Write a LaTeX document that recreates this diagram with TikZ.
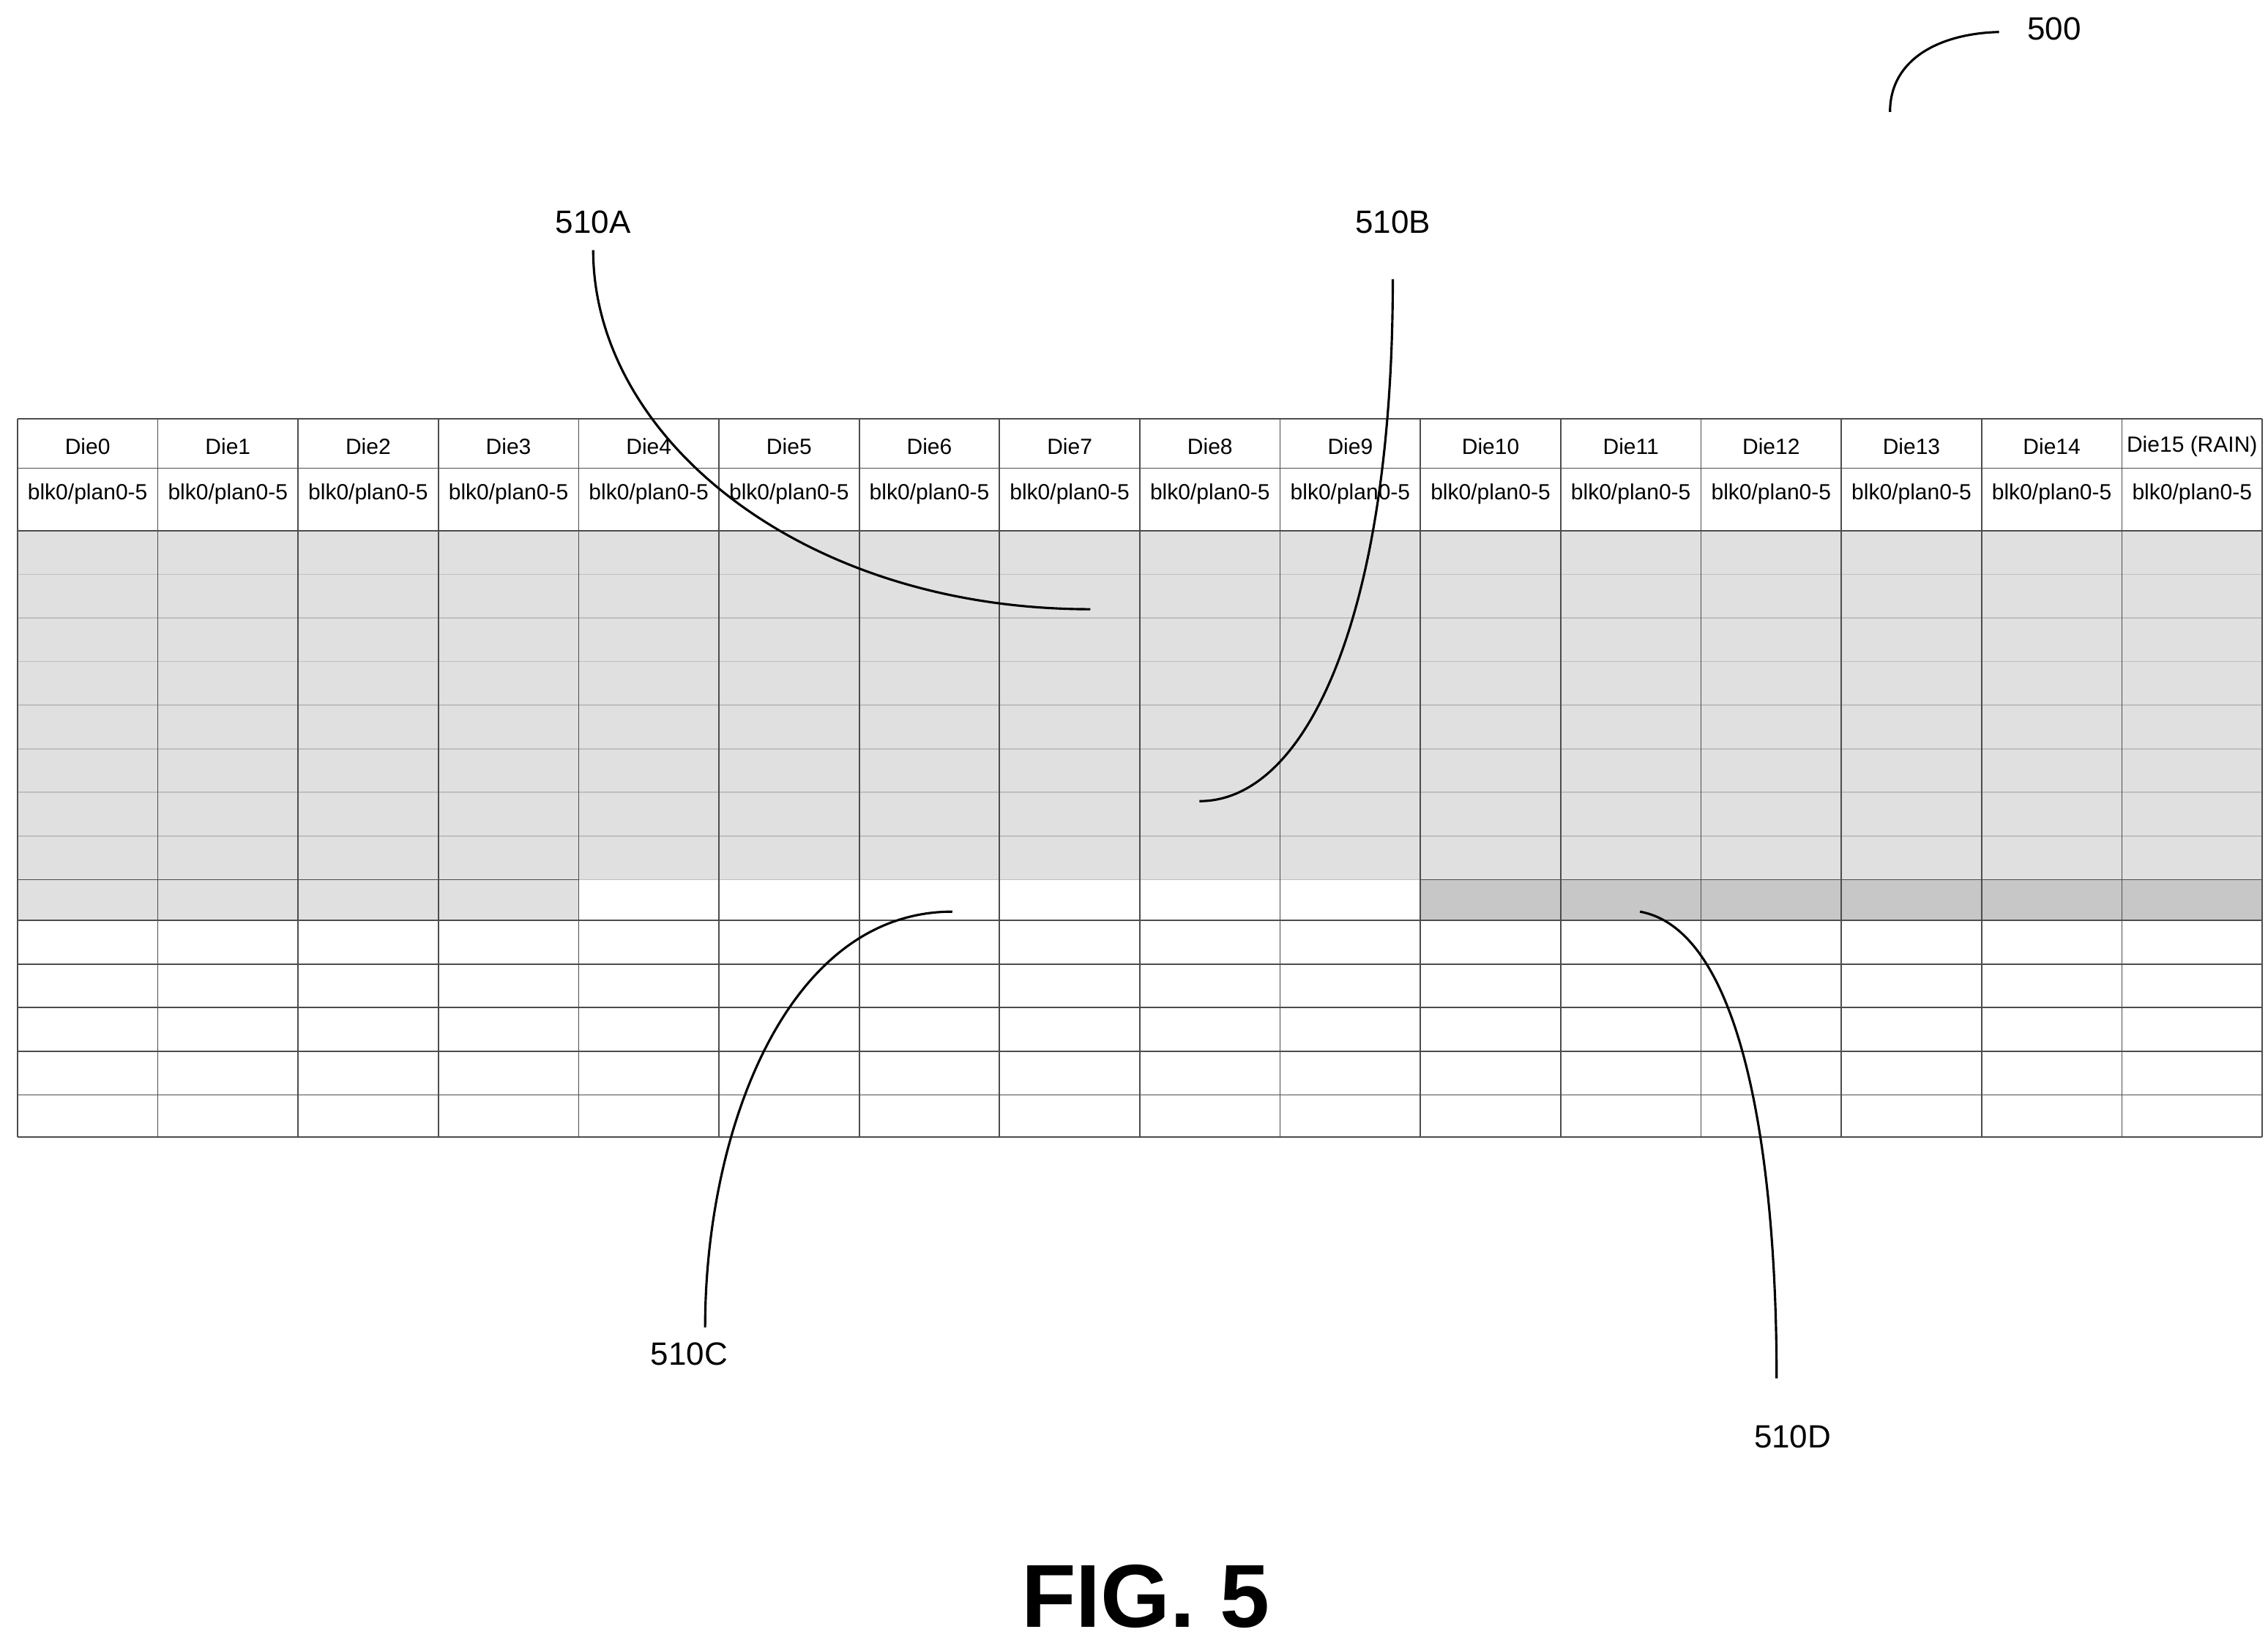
\documentclass[tikz,border=0pt]{standalone}
\usepackage{fontspec}
\setmainfont{Liberation Sans}
\begin{document}
\begin{tikzpicture}[x=0.1mm,y=-0.1mm,
  grid/.style={draw=black!70,line width=0.25pt},
  faint/.style={draw=black!25,line width=0.25pt},
  lead/.style={draw=black,line width=0.45pt},
  cell/.style={font=\fontsize{4.3}{5}\selectfont,inner sep=0},
  lbl/.style={font=\fontsize{6.3}{7}\selectfont,inner sep=0}]
\useasboundingbox (0,0) rectangle (1560,1127.5);
\def\L{12}\def\W{96.5}\def\R{1556}
% shading
\fill[black!12] (\L,365) rectangle (\R,605);
\fill[black!12] (\L,605) rectangle ({\L+4*\W},633);
\fill[black!22] ({\L+10*\W},605) rectangle (\R,633);
% faint row lines inside shaded area
\foreach \y in {395,425,455,485,515,545,575}
  \draw[faint] (\L,\y) -- (\R,\y);
\draw[faint] ({\L+4*\W},605) -- ({\L+10*\W},605);
\draw[grid] (\L,605) -- ({\L+4*\W},605) ({\L+10*\W},605) -- (\R,605);
% strong horizontal lines
\foreach \y in {288,322,365,633,663,693,723,753,782}
  \draw[grid] (\L,\y) -- (\R,\y);
% vertical lines
\foreach \i in {0,...,16}
  \draw[grid] ({\L+\i*\W},288) -- ({\L+\i*\W},782);
% texts
\foreach \i in {0,...,14}{
  \node[cell] (d\i) at ({\L+(\i+0.5)*\W},307) {Die\i};}
\node[cell] (d15) at ({\L+15.5*\W},307) {Die15 (RAIN)};
\foreach \i in {0,...,15}
  \node[cell] (b\i) at ({\L+(\i+0.5)*\W},340) {blk0/plan0-5};
% labels
\node[lbl] (n500) at (1413,20) {500};
\node[lbl] (nA) at (408,153) {510A};
\node[lbl] (nB) at (958,153) {510B};
\node[lbl] (nC) at (474,931) {510C};
\node[lbl] (nD) at (1233,988) {510D};
\node[font=\bfseries\fontsize{17.5}{20}\selectfont,inner sep=0] (fig) at (788,1098) {FIG. 5};
\coordinate (eA) at (750,419);
\coordinate (eB) at (825,551);
\coordinate (eC) at (655,627);
\coordinate (eD) at (1128,627);
\coordinate (e500) at (1300,77);
\draw[lead] (e500) .. controls (1300,40) and (1335,23) .. (1375,22);
\draw[lead] (408,172) .. controls (408,300) and (550,419) .. (eA);
\draw[lead] (958,192) .. controls (958,420) and (900,551) .. (eB);
\draw[lead] (eC) .. controls (540,627) and (485,780) .. (485,913);
\draw[lead] (eD) .. controls (1200,640) and (1222,800) .. (1222,948);
\end{tikzpicture}
\end{document}
